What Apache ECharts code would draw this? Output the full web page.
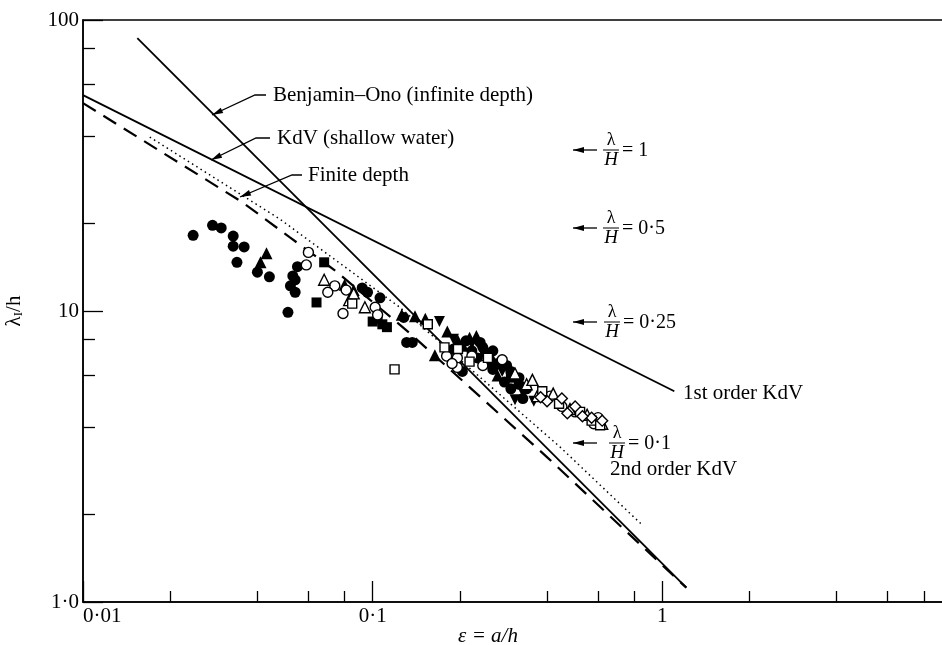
<!DOCTYPE html>
<html lang="en">
<head>
<meta charset="UTF-8">
<title>Wavelength against amplitude</title>
<script src="https://cdn.jsdelivr.net/npm/echarts@6.0.0/dist/echarts.min.js"></script>
<style>
  html, body { margin: 0; padding: 0; background: #fff; }
  #chart { width: 942px; height: 645px; }
</style>
</head>
<body>
<div id="chart"></div>
<script>
// theory curves, points are [eps, lambda/h]
var benjaminOno = [[0.0154, 86.7], [1.21, 1.12]];
var kdvFirst = [[0.01, 55.2], [1.10, 5.3]];
var kdvSecond = [[0.01, 51.8], [0.0356, 23.6], [0.0518, 17.9], [0.074, 13.8], [0.1336, 8.43], [0.398, 3.16], [1.21, 1.12]];
var finiteDepth = [[0.017, 39.6], [0.0478, 20.7], [0.124, 10.3], [0.442, 3.42], [0.847, 1.85]];

// measurements, one list per plotting symbol
var filledCircles = [[0.024, 18.2], [0.028, 19.7], [0.030, 19.3], [0.033, 18.1], [0.033, 16.7], [0.036, 16.6],
  [0.034, 14.7], [0.040, 13.6], [0.044, 13.1], [0.054, 12.8], [0.055, 14.2], [0.053, 13.2], [0.052, 12.2],
  [0.054, 11.6], [0.051, 9.9], [0.096, 11.6], [0.106, 11.1], [0.092, 12.0], [0.131, 7.8], [0.137, 7.8],
  [0.128, 9.5], [0.24, 7.5], [0.25, 7.0], [0.26, 6.3], [0.285, 5.7], [0.30, 5.4], [0.204, 6.2], [0.23, 6.9],
  [0.26, 7.3], [0.29, 6.5], [0.32, 5.6], [0.21, 7.9], [0.235, 7.8], [0.245, 7.2], [0.27, 6.6], [0.30, 6.2],
  [0.32, 5.9], [0.34, 5.4], [0.22, 7.3], [0.19, 7.4], [0.33, 5.0]];
var filledTriangles = [[0.043, 15.8], [0.041, 14.7], [0.080, 12.3], [0.086, 11.8], [0.126, 9.7], [0.14, 9.6],
  [0.152, 9.4], [0.164, 7.05], [0.181, 8.5], [0.197, 7.9], [0.216, 8.1], [0.228, 8.2], [0.27, 6.0], [0.205, 7.6],
  [0.26, 6.8]];
var filledDown = [[0.17, 9.2], [0.33, 5.25], [0.22, 7.7], [0.31, 4.95], [0.25, 6.6], [0.19, 8.0], [0.36, 4.9], [0.28, 6.2]];
var filledSquares = [[0.064, 10.7], [0.068, 14.7], [0.100, 9.2], [0.108, 9.0], [0.112, 8.8], [0.104, 9.4], [0.30, 5.9]];
var openCircles = [[0.060, 15.9], [0.059, 14.4], [0.074, 12.2], [0.070, 11.6], [0.081, 11.8], [0.079, 9.8],
  [0.102, 10.3], [0.104, 9.7], [0.18, 7.0], [0.196, 6.9], [0.22, 7.0], [0.196, 6.4], [0.188, 6.6], [0.28, 6.8],
  [0.50, 4.5], [0.58, 4.1], [0.60, 4.3], [0.45, 4.7], [0.41, 5.1], [0.24, 6.5]];
var openTriangles = [[0.068, 12.8], [0.083, 10.9], [0.094, 10.3], [0.31, 6.1], [0.34, 5.6], [0.356, 5.8], [0.37, 5.1],
  [0.42, 5.2], [0.48, 4.6], [0.55, 4.4], [0.62, 4.1], [0.086, 11.5]];
var openSquares = [[0.119, 6.3], [0.155, 9.0], [0.177, 7.5], [0.197, 7.4], [0.216, 6.7], [0.385, 5.3], [0.44, 4.8],
  [0.52, 4.5], [0.57, 4.2], [0.61, 4.05], [0.085, 10.6], [0.25, 6.9]];
var openDiamonds = [[0.40, 4.9], [0.47, 4.45], [0.50, 4.7], [0.57, 4.3], [0.62, 4.2], [0.38, 5.05], [0.45, 5.0], [0.53, 4.35]];

// axes
var xMajorTicks = [0.01, 0.1, 1, 10];
var xTickLabels = ['0·01', '0·1', '1', ''];
var xMinorTicks = [0.02, 0.04, 0.06, 0.08, 0.2, 0.4, 0.6, 0.8, 2, 4, 6, 8];
var yMajorTicks = [1, 10, 100];
var yTickLabels = ['1·0', '10', '100'];
var yMinorTicks = [2, 4, 6, 8, 20, 40, 60, 80];

var SERIF = "'Liberation Serif', 'DejaVu Serif', serif";

function labelFor(ticks, labels) {
  return function (v) {
    var e = Math.round(Math.log10(v));
    for (var i = 0; i < ticks.length; i++) {
      if (Math.round(Math.log10(ticks[i])) === e) return labels[i];
    }
    return '';
  };
}

function arrow(pts) {
  var n = pts.length, tip = pts[n - 1], prev = pts[n - 2];
  var dx = tip[0] - prev[0], dy = tip[1] - prev[1];
  var len = Math.sqrt(dx * dx + dy * dy), ux = dx / len, uy = dy / len;
  var L = 11, W = 3;
  var bx = tip[0] - ux * L, by = tip[1] - uy * L;
  return [
    { type: 'polyline', shape: { points: pts }, style: { stroke: '#000', lineWidth: 1.3, fill: null } },
    { type: 'polygon', shape: { points: [tip, [bx - uy * W, by + ux * W], [bx + uy * W, by - ux * W]] }, style: { fill: '#000' } }
  ];
}

function txt(x, y, s, font, align) {
  return { type: 'text', x: x, y: y, style: { text: s, font: font || ('21px ' + SERIF), fill: '#000', align: align || 'left', verticalAlign: 'middle' } };
}

function ratio(cx, y, rest) {
  return [
    txt(cx, y - 10, 'λ', '18px ' + SERIF, 'center'),
    { type: 'line', shape: { x1: cx - 8, y1: y, x2: cx + 8, y2: y }, style: { stroke: '#000', lineWidth: 1 } },
    txt(cx, y + 10, 'H', 'italic 19px ' + SERIF, 'center'),
    txt(cx + 11, y + 1, rest, '20px ' + SERIF)
  ].concat(arrow([[597, y], [573, y]]));
}

var graphics = []
  .concat([txt(273, 95, 'Benjamin–Ono (infinite depth)')], arrow([[266, 95], [255, 95], [212, 115]]))
  .concat([txt(277, 138, 'KdV (shallow water)')], arrow([[270, 138], [256, 138], [211, 160]]))
  .concat([txt(308, 175, 'Finite depth')], arrow([[302, 175], [292, 175], [240, 197]]))
  .concat(ratio(611, 150, '= 1'), ratio(611, 228, '= 0·5'), ratio(612, 322, '= 0·25'), ratio(617, 443, '= 0·1'))
  .concat([txt(683, 393, '1st order KdV'), txt(610, 469, '2nd order KdV')])
  .concat([txt(488, 636, 'ε = a/h', 'italic 21px ' + SERIF, 'center')]);

function logAxis(min, max, extra) {
  var a = {
    type: 'log', logBase: 10, min: min, max: max,
    splitLine: { show: false },
    axisLine: { show: true, lineStyle: { color: '#000', width: 1.5 } }
  };
  for (var k in extra) a[k] = extra[k];
  return a;
}

function scatter(data, symbol, size, open) {
  return {
    type: 'scatter', data: data, symbol: symbol, symbolSize: size, z: open ? 5 : 4,
    itemStyle: open ? { color: '#fff', borderColor: '#000', borderWidth: 1.4, opacity: 1 } : { color: '#000', opacity: 1 }
  };
}

function curve(data, type, width) {
  return { type: 'line', data: data, symbol: 'none', z: 3, lineStyle: { color: '#000', width: width, type: type } };
}

var chart = echarts.init(document.getElementById('chart'), null, { renderer: 'canvas' });
chart.setOption({
  animation: false,
  backgroundColor: '#fff',
  grid: { left: 83, top: 20, right: -10, bottom: 43, show: true, borderColor: '#000', borderWidth: 1.5, containLabel: false, outerBoundsMode: 'none' },
  xAxis: [
    logAxis(0.01, 10, {
      position: 'bottom',
      axisTick: { inside: true, length: 21, customValues: xMajorTicks, lineStyle: { color: '#000', width: 1.3 } },
      axisLabel: { customValues: xMajorTicks, formatter: labelFor(xMajorTicks, xTickLabels), color: '#000', fontFamily: SERIF, fontSize: 21, margin: 4, alignMinLabel: 'left' }
    }),
    logAxis(0.01, 10, {
      position: 'bottom',
      axisLine: { show: false },
      axisTick: { inside: true, length: 11, customValues: xMinorTicks, lineStyle: { color: '#000', width: 1.3 } },
      axisLabel: { show: false }
    })
  ],
  yAxis: [
    logAxis(1, 100, {
      position: 'left',
      name: '{l|λ}{s|I}{l|/h}',
      nameLocation: 'middle', nameGap: 58, nameRotate: 90,
      nameTextStyle: { color: '#000', rich: { l: { fontFamily: SERIF, fontSize: 21, fontStyle: 'normal' }, s: { fontFamily: SERIF, fontSize: 13, verticalAlign: 'bottom', padding: [9, 0, 0, 0] } } },
      axisTick: { inside: true, length: 20, customValues: yMajorTicks, lineStyle: { color: '#000', width: 1.3 } },
      axisLabel: { customValues: yMajorTicks, formatter: labelFor(yMajorTicks, yTickLabels), color: '#000', fontFamily: SERIF, fontSize: 21, margin: 4 }
    }),
    logAxis(1, 100, {
      position: 'left',
      axisLine: { show: false },
      axisTick: { inside: true, length: 12, customValues: yMinorTicks, lineStyle: { color: '#000', width: 1.3 } },
      axisLabel: { show: false }
    })
  ],
  series: [
    curve(benjaminOno, 'solid', 1.8),
    curve(kdvFirst, 'solid', 1.8),
    curve(kdvSecond, [15, 9], 2.2),
    curve(finiteDepth, [1.5, 3.5], 1.5),
    scatter(filledCircles, 'circle', 11, false),
    scatter(filledTriangles, 'triangle', 12, false),
    scatter(filledDown, 'path://M0,0L10,0L5,9Z', 11, false),
    scatter(filledSquares, 'rect', 10, false),
    scatter(openCircles, 'circle', 10, true),
    scatter(openTriangles, 'triangle', 11, true),
    scatter(openSquares, 'rect', 9, true),
    scatter(openDiamonds, 'diamond', 11, true)
  ],
  graphic: graphics
});
</script>
</body>
</html>
